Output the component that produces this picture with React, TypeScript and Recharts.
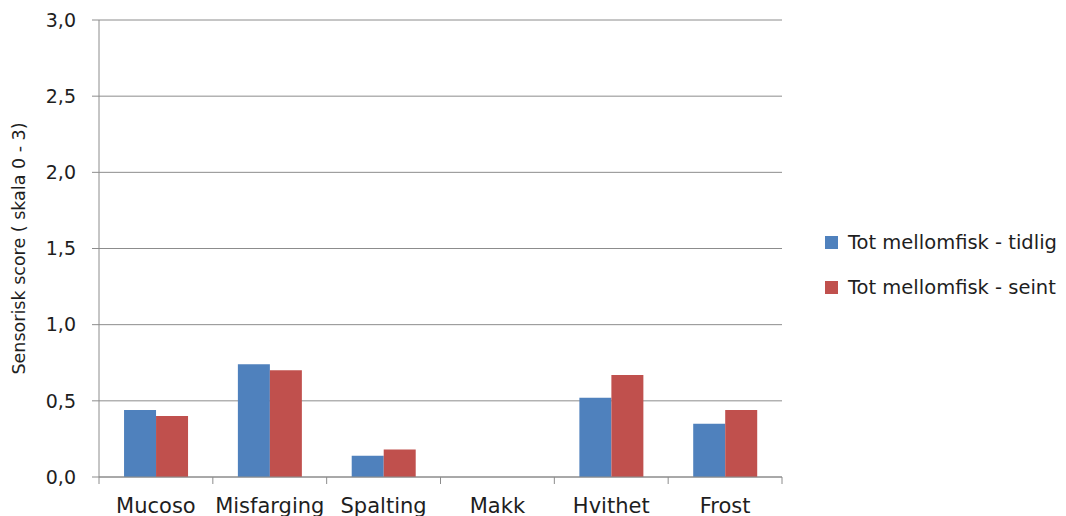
import React from "react"
import { BarChart, Bar, XAxis, YAxis, CartesianGrid, Legend } from "recharts"

const categories = ["Mucoso", "Misfarging", "Spalting", "Makk", "Hvithet", "Frost"]
const tidlig = [0.44, 0.74, 0.14, 0, 0.52, 0.35]
const seint = [0.4, 0.7, 0.18, 0, 0.67, 0.44]
const yTicks = [0, 0.5, 1, 1.5, 2, 2.5, 3]

const seriesNames = ["Tot mellomfisk - tidlig", "Tot mellomfisk - seint"]
const colors = ["#4F81BD", "#C0504D"]

const data = categories.map((name, i) => ({ name, tidlig: tidlig[i], seint: seint[i] }))

const FONT = "'DejaVu Sans', sans-serif"
const AXIS = "#8c8c8c"
const TEXT = "#1e1e1e"
const PLOT_LEFT = 99
const PLOT_RIGHT = 782
const BAND = (PLOT_RIGHT - PLOT_LEFT) / categories.length

// x ticks sit between categories, like in the original
function CategoryTick(props: any) {
  const { x, y, payload, index } = props
  const top = y - 8
  return (
    <g>
      <line x1={x - BAND / 2} y1={top} x2={x - BAND / 2} y2={top + 7} stroke={AXIS} />
      {index === categories.length - 1 && (
        <line x1={x + BAND / 2} y1={top} x2={x + BAND / 2} y2={top + 7} stroke={AXIS} />
      )}
      <text x={x} y={top + 36} textAnchor="middle" fill={TEXT} fontSize={21} fontFamily={FONT}>
        {payload.value}
      </text>
    </g>
  )
}

function YLabel(props: any) {
  const { viewBox } = props
  const cy = viewBox.y + viewBox.height / 2
  return (
    <text
      x={19}
      y={cy}
      transform={`rotate(-90, 19, ${cy})`}
      textAnchor="middle"
      dominantBaseline="central"
      fill={TEXT}
      fontSize={17.5}
      fontFamily={FONT}
    >
      Sensorisk score ( skala 0 - 3)
    </text>
  )
}

function LegendBox() {
  return (
    <div style={{ fontFamily: FONT, fontSize: 19.5, color: TEXT }}>
      {seriesNames.map((n, i) => (
        <div key={n} style={{ display: "flex", alignItems: "center", height: 45, whiteSpace: "nowrap" }}>
          <span style={{ width: 13, height: 13, background: colors[i], marginRight: 10, display: "inline-block" }} />
          <span>{n}</span>
        </div>
      ))}
    </div>
  )
}

export default function App() {
  return (
    <div style={{ position: "absolute", left: 0, top: 0, background: "#fff" }}>
      <BarChart
        width={1066}
        height={516}
        data={data}
        margin={{ top: 20, right: 1066 - PLOT_RIGHT, bottom: 0, left: 0 }}
        barGap={0}
        barCategoryGap="22%"
      >
        <CartesianGrid vertical={false} stroke={AXIS} strokeWidth={1} />
        <XAxis
          dataKey="name"
          height={39}
          axisLine={{ stroke: AXIS }}
          tickLine={false}
          tick={<CategoryTick />}
          interval={0}
        />
        <YAxis
          width={PLOT_LEFT}
          domain={[0, 3]}
          ticks={yTicks}
          interval={0}
          axisLine={{ stroke: AXIS }}
          tickLine={{ stroke: AXIS }}
          tickSize={7}
          tickMargin={16}
          tick={{ fill: TEXT, fontSize: 19, fontFamily: FONT }}
          tickFormatter={(v: number) => v.toFixed(1).replace(".", ",")}
          label={<YLabel />}
        />
        <Legend
          layout="vertical"
          align="center"
          verticalAlign="middle"
          content={<LegendBox />}
          wrapperStyle={{ left: 825, top: 220, width: 241 }}
        />
        <Bar dataKey="tidlig" name={seriesNames[0]} fill={colors[0]} isAnimationActive={false} />
        <Bar dataKey="seint" name={seriesNames[1]} fill={colors[1]} isAnimationActive={false} />
      </BarChart>
    </div>
  )
}
